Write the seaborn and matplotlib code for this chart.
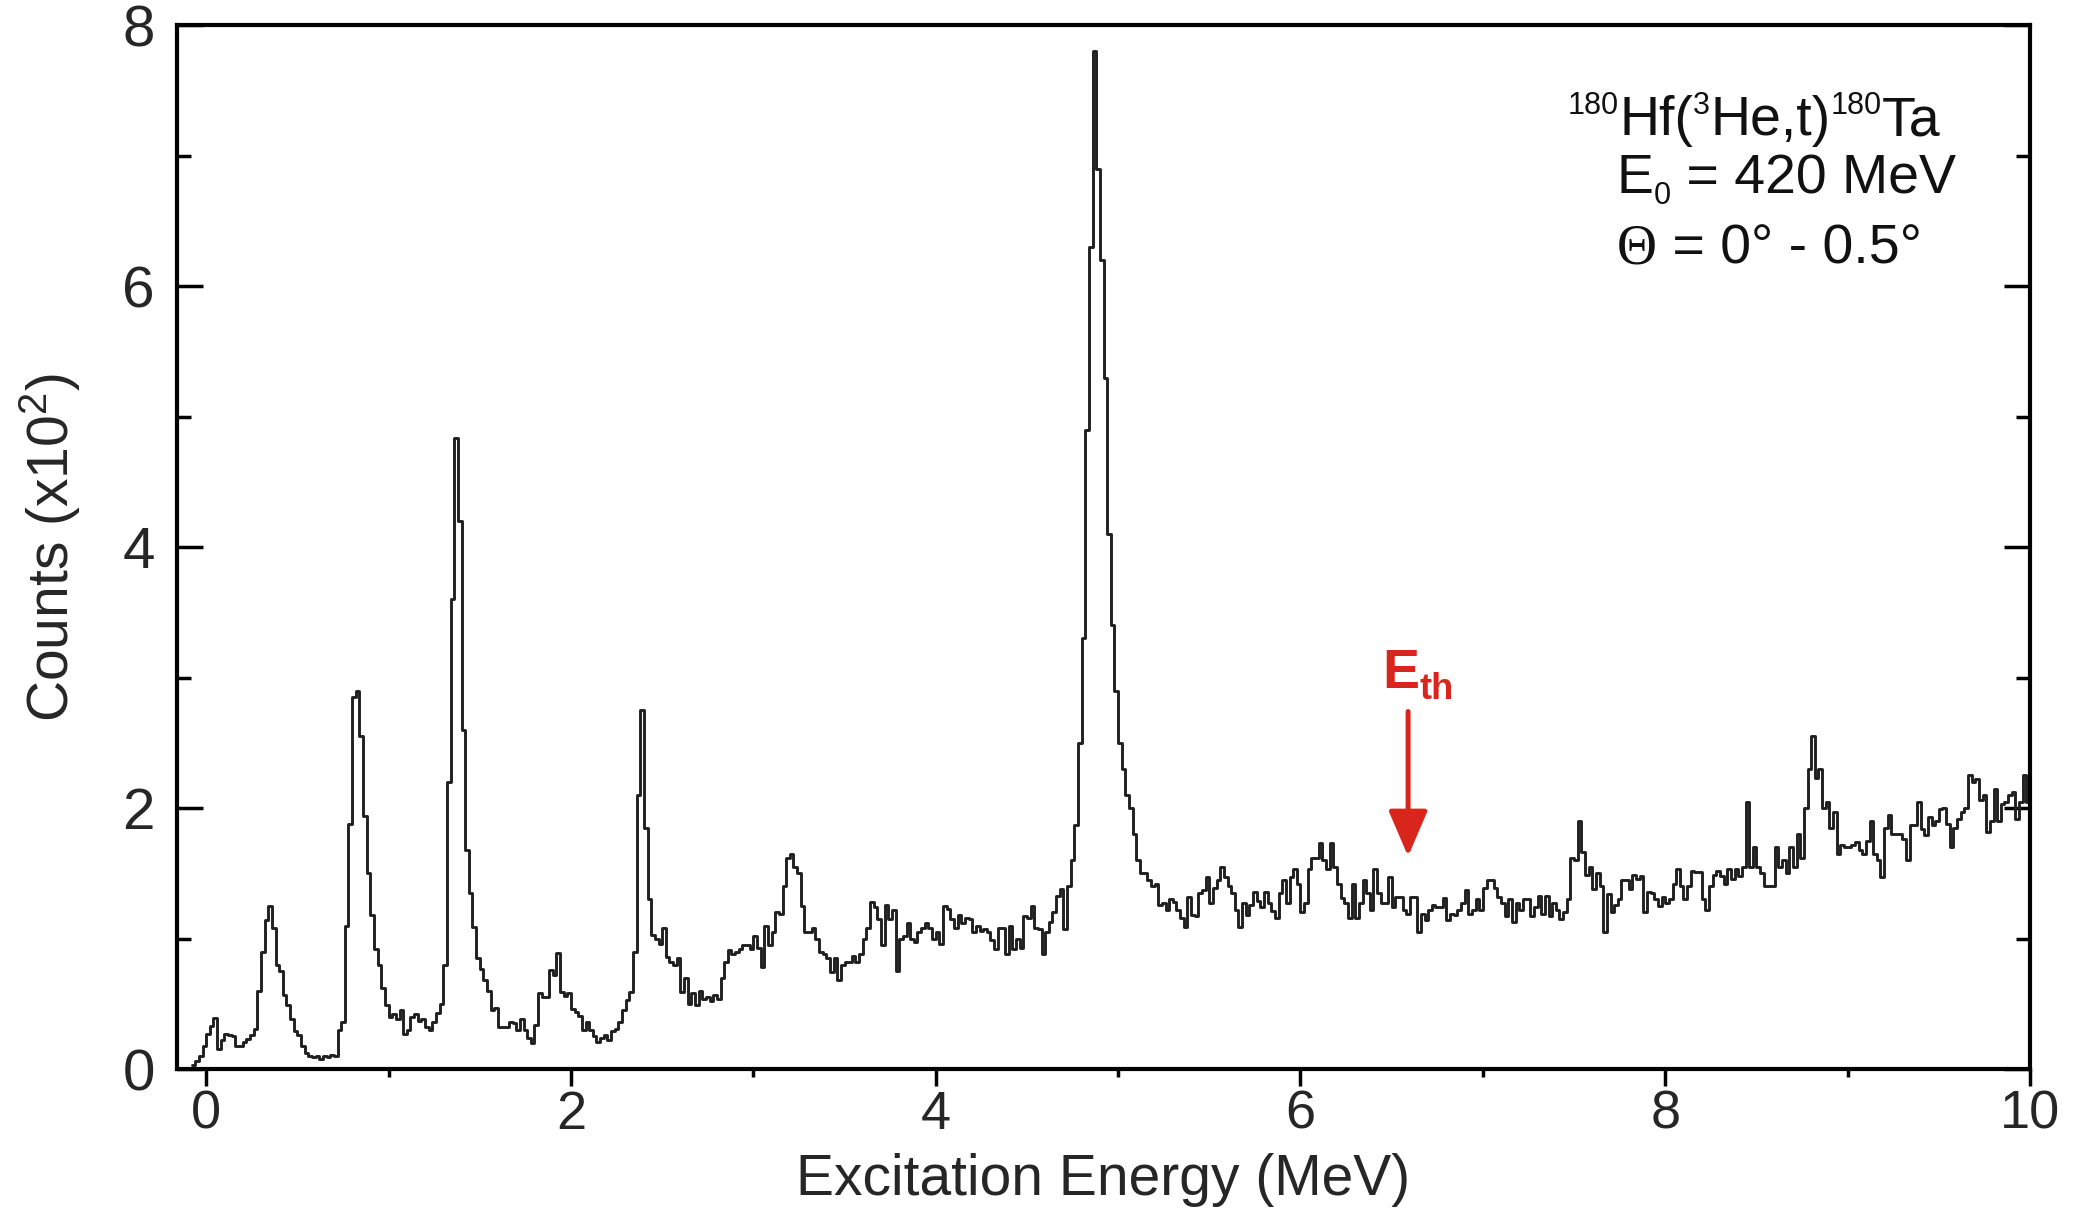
import numpy as np
import pandas as pd
import matplotlib
matplotlib.use("Agg")
import matplotlib.pyplot as plt
import matplotlib.transforms as mtransforms
import seaborn as sns

# Spectrum binning (MeV)
E_START = -0.08
BIN_WIDTH = 0.02

# Counts (x100), split by energy range
counts_m008_114 = [
    0.03, 0.06, 0.10, 0.18, 0.27, 0.33, 0.39, 0.15, 0.22, 0.27,
    0.26, 0.25, 0.18, 0.18, 0.21, 0.23, 0.26, 0.31, 0.60, 0.90,
    1.14, 1.25, 1.08, 0.80, 0.75, 0.57, 0.49, 0.38, 0.29, 0.26,
    0.18, 0.12, 0.10, 0.09, 0.10, 0.08, 0.10, 0.09, 0.11, 0.10,
    0.30, 0.36, 1.10, 1.88, 2.85, 2.90, 2.55, 1.94, 1.50, 1.18,
    0.92, 0.80, 0.62, 0.49, 0.40, 0.42, 0.38, 0.45, 0.27, 0.30,
    0.40, 0.42,
]
counts_116_234 = [
    0.37, 0.38, 0.32, 0.30, 0.36, 0.43, 0.50, 0.80, 2.20, 3.60,
    4.84, 4.20, 2.60, 1.68, 1.35, 1.09, 0.85, 0.77, 0.68, 0.60,
    0.45, 0.47, 0.32, 0.32, 0.32, 0.36, 0.35, 0.30, 0.38, 0.30,
    0.24, 0.20, 0.34, 0.58, 0.55, 0.55, 0.76, 0.72, 0.89, 0.59,
    0.56, 0.58, 0.46, 0.44, 0.41, 0.30, 0.36, 0.30, 0.25, 0.21,
    0.24, 0.26, 0.22, 0.29, 0.31, 0.36, 0.45, 0.53, 0.59, 0.90,
]
counts_236_356 = [
    2.10, 2.75, 1.85, 1.30, 1.03, 1.00, 0.96, 1.08, 0.86, 0.82,
    0.80, 0.85, 0.59, 0.70, 0.50, 0.58, 0.49, 0.60, 0.54, 0.55,
    0.52, 0.57, 0.54, 0.70, 0.82, 0.91, 0.88, 0.90, 0.92, 0.95,
    0.95, 0.92, 1.02, 0.93, 0.78, 1.10, 0.95, 1.05, 1.20, 1.19,
    1.40, 1.62, 1.65, 1.55, 1.50, 1.25, 1.05, 1.05, 1.08, 1.00,
    0.90, 0.88, 0.85, 0.74, 0.85, 0.68, 0.80, 0.82, 0.82, 0.87,
    0.82,
]
counts_358_476 = [
    0.88, 1.00, 1.08, 1.28, 1.24, 1.15, 0.95, 1.26, 1.15, 1.22,
    0.75, 1.00, 1.02, 1.12, 1.00, 0.97, 1.05, 1.08, 1.12, 1.08,
    1.00, 1.05, 0.96, 1.25, 1.23, 1.15, 1.08, 1.18, 1.12, 1.16,
    1.15, 1.05, 1.10, 1.06, 1.07, 1.05, 0.99, 0.92, 1.08, 1.08,
    0.88, 1.10, 0.92, 1.00, 0.93, 1.17, 1.16, 1.25, 1.08, 1.07,
    0.88, 1.05, 1.13, 1.20, 1.33, 1.38, 1.07, 1.40, 1.60, 1.87,
]
counts_478_532 = [
    2.50, 3.30, 4.90, 6.30, 7.80, 6.90, 6.20, 5.30, 4.10, 3.40,
    2.90, 2.50, 2.30, 2.10, 2.00, 1.80, 1.60, 1.50, 1.50, 1.45,
    1.40, 1.42, 1.26, 1.27, 1.22, 1.30, 1.28, 1.22,
]
counts_534_740 = [
    1.16, 1.09, 1.32, 1.18, 1.17, 1.35, 1.37, 1.47, 1.27, 1.39,
    1.45, 1.55, 1.47, 1.40, 1.35, 1.22, 1.09, 1.27, 1.18, 1.26,
    1.36, 1.29, 1.24, 1.36, 1.27, 1.21, 1.16, 1.35, 1.45, 1.27,
    1.47, 1.53, 1.42, 1.20, 1.27, 1.53, 1.62, 1.62, 1.73, 1.60,
    1.53, 1.73, 1.55, 1.42, 1.31, 1.27, 1.16, 1.42, 1.16, 1.27,
    1.45, 1.35, 1.22, 1.53, 1.35, 1.27, 1.27, 1.47, 1.24, 1.32,
    1.32, 1.22, 1.19, 1.32, 1.32, 1.05, 1.19, 1.14, 1.22, 1.26,
    1.24, 1.24, 1.31, 1.14, 1.19, 1.18, 1.22, 1.27, 1.37, 1.19,
    1.22, 1.30, 1.22, 1.39, 1.45, 1.45, 1.39, 1.32, 1.27, 1.17,
    1.30, 1.13, 1.27, 1.22, 1.30, 1.30, 1.17, 1.24, 1.33, 1.19,
    1.33, 1.17, 1.27, 1.22,
]
counts_742_998 = [
    1.15, 1.20, 1.30, 1.62, 1.60, 1.90, 1.66, 1.49, 1.55, 1.38,
    1.50, 1.40, 1.05, 1.34, 1.20, 1.26, 1.30, 1.45, 1.45, 1.38,
    1.49, 1.46, 1.48, 1.20, 1.36, 1.35, 1.30, 1.25, 1.32, 1.27,
    1.30, 1.42, 1.53, 1.40, 1.30, 1.40, 1.52, 1.51, 1.51, 1.30,
    1.22, 1.40, 1.49, 1.52, 1.48, 1.42, 1.53, 1.46, 1.53, 1.48,
    1.55, 2.05, 1.55, 1.70, 1.55, 1.50, 1.40, 1.40, 1.40, 1.70,
    1.55, 1.60, 1.50, 1.70, 1.55, 1.80, 1.62, 2.00, 2.30, 2.55,
    2.23, 2.30, 2.00, 2.05, 1.85, 1.97, 1.65, 1.72, 1.70, 1.70,
    1.72, 1.74, 1.68, 1.65, 1.75, 1.90, 1.65, 1.60, 1.47, 1.85,
    1.95, 1.80, 1.80, 1.80, 1.76, 1.60, 1.87, 1.87, 2.05, 1.84,
    1.79, 1.93, 1.87, 1.90, 1.99, 2.00, 1.88, 1.70, 1.85, 1.92,
    1.97, 2.00, 2.25, 2.20, 2.22, 2.06, 2.10, 1.82, 1.90, 2.15,
    1.90, 2.03, 2.05, 2.10, 2.12, 1.92, 2.05, 2.25, 2.05,
]

# Annotation values
E_TH = 6.59
RED = "#d9261c"
SANS = "Liberation Sans"
SERIF = "Liberation Serif"


def draw_pieces(ax, x, y, pieces, transform, **kw):
    # place text runs one after another; each piece is (text, size, rise_pt, family, weight)
    renderer = ax.figure.canvas.get_renderer()
    dx = 0.0
    for text, size, rise, family, weight in pieces:
        tr = mtransforms.offset_copy(transform, fig=ax.figure, x=dx, y=rise,
                                     units="points")
        t = ax.text(x, y, text, transform=tr, fontsize=size, family=family,
                    fontweight=weight, ha="left", va="baseline", **kw)
        dx += t.get_window_extent(renderer).width * 72.0 / ax.figure.dpi


def main():
    sns.set_theme(style="ticks")
    plt.rcParams["font.family"] = [SANS, "DejaVu Sans"]
    plt.rcParams["mathtext.fontset"] = "custom"
    plt.rcParams["mathtext.rm"] = SANS
    plt.rcParams["mathtext.default"] = "regular"

    counts = np.concatenate([counts_m008_114, counts_116_234, counts_236_356,
                             counts_358_476, counts_478_532, counts_534_740,
                             counts_742_998])
    e_stop = E_START + BIN_WIDTH * len(counts)
    centers = E_START + BIN_WIDTH * (np.arange(len(counts)) + 0.5)
    df = pd.DataFrame({"energy": centers, "counts": counts})

    fig = plt.figure(figsize=(20.9, 12.18), dpi=100)
    ax = fig.add_axes([0.0847, 0.1223, 0.8866, 0.857])

    sns.histplot(data=df, x="energy", weights="counts", binwidth=BIN_WIDTH,
                 binrange=(E_START, e_stop), element="step", fill=False,
                 color="#202020", linewidth=2.1, ax=ax)

    ax.set_xlim(-0.16, 10)
    ax.set_ylim(0, 8)
    ax.set_xticks(np.arange(0, 11, 2))
    ax.set_xticks(np.arange(1, 10, 2), minor=True)
    ax.set_yticks(np.arange(0, 9, 2))
    ax.set_yticks(np.arange(1, 8, 2), minor=True)

    for side in ["left", "right", "top", "bottom"]:
        ax.spines[side].set_visible(True)
        ax.spines[side].set_linewidth(3)
        ax.spines[side].set_color("black")

    ax.tick_params(axis="x", which="both", direction="out", top=False,
                   width=2.5, color="black", pad=3, labelsize=39)
    ax.tick_params(axis="x", which="major", length=12)
    ax.tick_params(axis="x", which="minor", length=6)
    ax.tick_params(axis="y", which="both", direction="in", left=True,
                   right=True, width=2.5, color="black", pad=16, labelsize=42)
    ax.tick_params(axis="y", which="major", length=19)
    ax.tick_params(axis="y", which="minor", length=10)

    ax.set_xlabel("Excitation Energy (MeV)", fontsize=41)
    ax.set_ylabel(r"Counts (x10$^{2}$)", fontsize=41)
    ax.xaxis.set_label_coords(0.5, -0.080)
    ax.yaxis.set_label_coords(-0.051, 0.5)

    # reaction info, upper right
    line1 = [("180", 22, 15, SANS, "normal"), ("Hf(", 40, 0, SANS, "normal"),
             ("3", 22, 15, SANS, "normal"), ("He,t)", 40, 0, SANS, "normal"),
             ("180", 22, 15, SANS, "normal"), ("Ta", 40, 0, SANS, "normal")]
    line2 = [("E", 40, 0, SANS, "normal"), ("0", 22, -8, SANS, "normal"),
             (" = 420 MeV", 40, 0, SANS, "normal")]
    line3 = [("Θ", 40, 0, SERIF, "normal"),
             (" = 0° - 0.5°", 40, 0, SANS, "normal")]
    draw_pieces(ax, 0.7507, 0.8946, line1, ax.transAxes, color="#111111")
    draw_pieces(ax, 0.777, 0.839, line2, ax.transAxes, color="#111111")
    draw_pieces(ax, 0.777, 0.772, line3, ax.transAxes, color="#111111")

    # threshold marker
    ax.annotate("", xy=(E_TH, 1.63), xytext=(E_TH, 2.74),
                arrowprops=dict(arrowstyle="-|>,head_length=1.4,head_width=0.6",
                                mutation_scale=20, lw=3.6, color=RED,
                                shrinkA=0, shrinkB=0))
    eth = [("E", 40, 0, SANS, "bold"), ("th", 26, -8, SANS, "bold")]
    draw_pieces(ax, 6.45, 2.92, eth, ax.transData, color=RED)

    fig.savefig("out.png", dpi=100)


if __name__ == "__main__":
    main()
